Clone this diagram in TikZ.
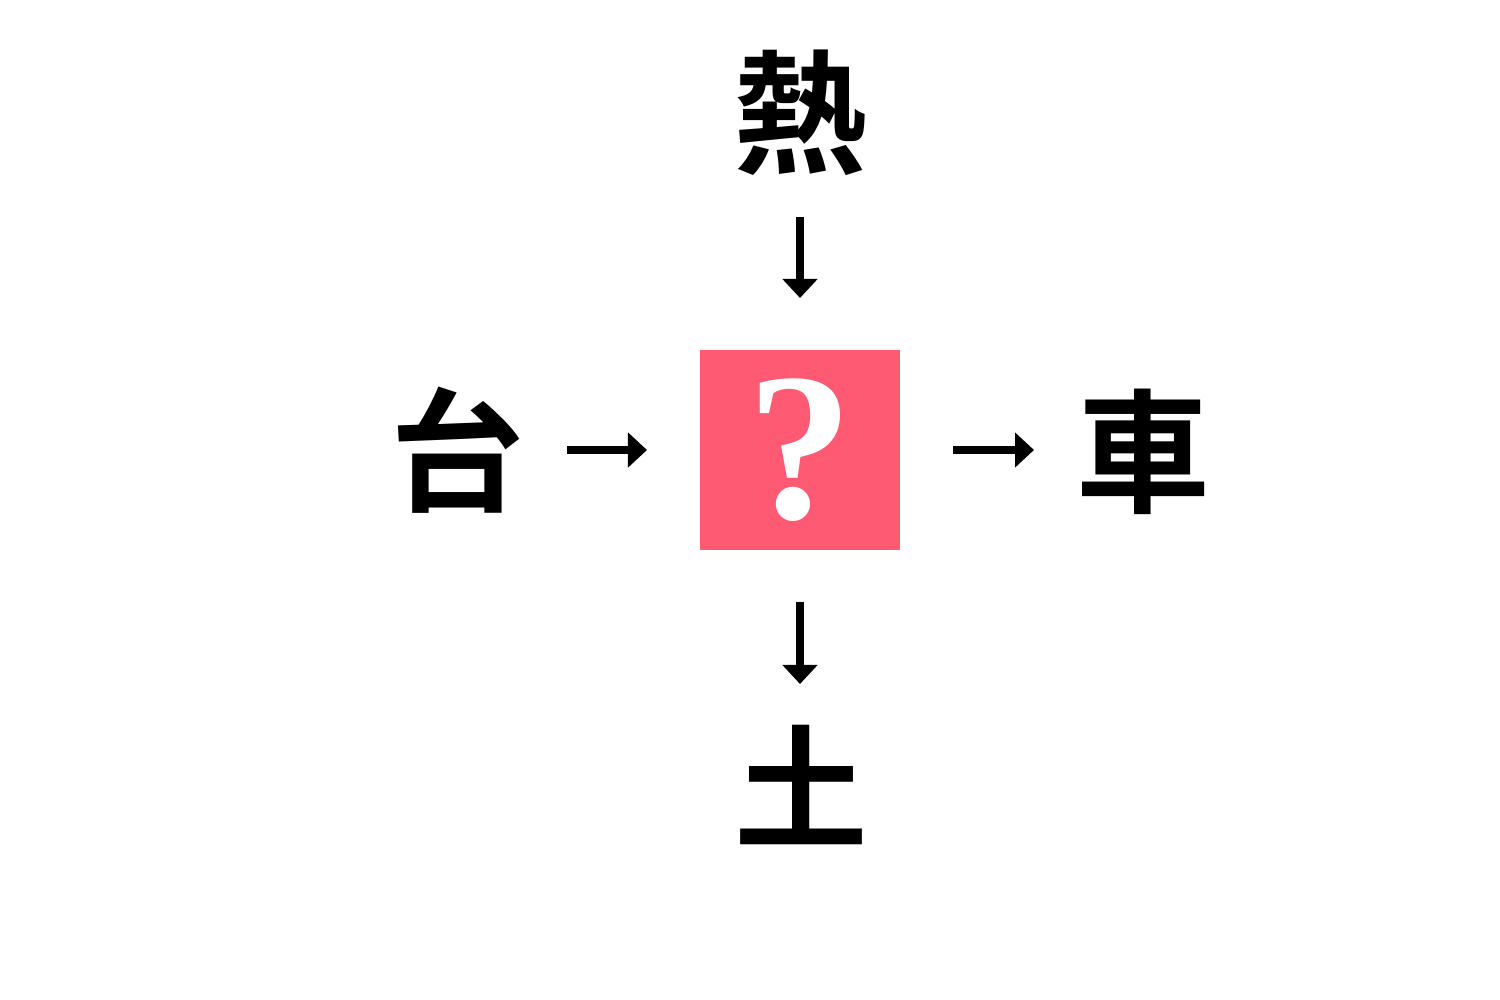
\documentclass[tikz,border=0pt]{standalone}
\usepackage{fontspec}
\newfontfamily\cjk{Noto Sans CJK JP}[BoldFont={Noto Sans CJK JP Bold}]
\newfontfamily\qfont{Liberation Serif}
\usetikzlibrary{arrows.meta}
\definecolor{qpink}{HTML}{FF5A74}
\tikzset{
  kanji/.style={font=\cjk\bfseries\fontsize{38pt}{38pt}\selectfont, inner sep=0pt, text=black},
  qbox/.style={fill=qpink, minimum size=2cm, inner sep=0pt, text=white, font=\qfont\bfseries\fontsize{60pt}{60pt}\selectfont},
  conn/.style={line width=0.08cm, -{Triangle[width=0.34cm,length=0.19cm]}},
}
\begin{document}
\begin{tikzpicture}[x=0.01cm,y=-0.01cm]
\useasboundingbox[fill=white] (0,0) rectangle (1500,1000);
\node[qbox] (q) at (800,450) {\raisebox{-0.12em}{?}};
\node[kanji] (top) at (800,113) {熱};
\node[kanji] (left) at (457,450) {台};
\node[kanji] (right) at (1143,452) {車};
\node[kanji] (bottom) at (801,785) {土};
\coordinate (t1) at (800,217); \coordinate (t2) at (800,298);
\coordinate (l1) at (567,450); \coordinate (l2) at (647,450);
\coordinate (r1) at (953,450); \coordinate (r2) at (1034,450);
\coordinate (b1) at (800,602); \coordinate (b2) at (800,684);
\draw[conn] (t1) -- (t2);
\draw[conn] (l1) -- (l2);
\draw[conn] (r1) -- (r2);
\draw[conn] (b1) -- (b2);
\end{tikzpicture}
\end{document}
